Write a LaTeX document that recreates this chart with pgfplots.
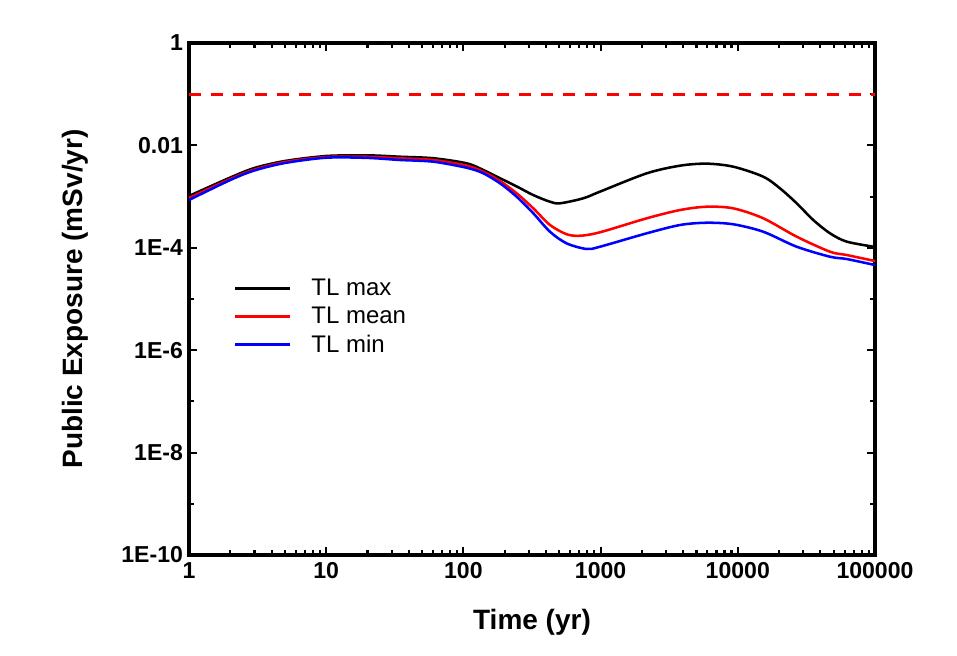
\documentclass[border=0pt]{standalone}
\usepackage{fontspec}
\setmainfont{Liberation Sans}
\usepackage{pgfplots}
\pgfplotsset{compat=1.18}
\begin{document}
\begin{tikzpicture}[x=1pt,y=1pt]
\begin{axis}[
  name=ax,
  scale only axis,
  width=514.5pt, height=384pt,
  xmode=log, ymode=log,
  xmin=1, xmax=100000, ymin=1e-10, ymax=1,
  axis line style={line width=2.4pt},
  xtick={1,10,100,1000,10000,100000},
  xticklabels={1,10,100,1000,10000,100000},
  ytick={1e-10,1e-8,1e-6,1e-4,1e-2,1},
  yticklabels={1E-10,1E-8,1E-6,1E-4,0.01,1},
  minor ytick={1e-9,1e-7,1e-5,1e-3,1e-1},
  minor xtick={},
  major tick length=6pt, minor tick length=4pt,
  every tick/.style={black, line width=1.6pt},
  tick align=inside,
  ticklabel style={font=\bfseries\fontsize{17.3}{20}\selectfont},
  xticklabel style={yshift=-2pt},
  yticklabel style={xshift=-1pt},
  xlabel={Time (yr)},
  ylabel={Public Exposure (mSv/yr)},
  label style={font=\bfseries\fontsize{21}{24}\selectfont},
  xlabel style={at={(axis description cs:0.5,-0.131)}, anchor=center},
  ylabel style={at={(axis description cs:-0.166,0.5)}, anchor=center},
  legend style={draw=none, fill=none, at={(axis description cs:0.065,0.544)}, anchor=north west,
    font=\fontsize{18}{22}\selectfont, row sep=3pt, inner sep=0pt},
  legend cell align=left,
  legend image code/.code={\draw[#1, line width=2.4pt] (0pt,0pt) -- (41pt,0pt); \path (54pt,0pt);},
]
\addplot[red, line width=2.4pt, dash pattern=on 9pt off 7.5pt, forget plot] coordinates {(1,0.1) (100000,0.1)};
\addplot[black, line width=1.9pt, smooth] coordinates {
(1,1.03e-3) (2,2.36e-3) (3,3.62e-3) (5,4.96e-3) (10,6.21e-3) (20,6.40e-3) (34.5,6.01e-3)
(60.3,5.62e-3) (105.7,4.47e-3) (139.7,3.31e-3) (184.8,2.29e-3) (244.5,1.58e-3)
(323.3,1.07e-3) (427.7,7.94e-4) (506,7.40e-4) (748,9.27e-4) (990,1.25e-3)
(2168,2.85e-3) (3793,4.02e-3) (5933,4.40e-3) (9272,3.84e-3) (15340,2.45e-3)
(20300,1.45e-3) (26870,7.40e-4) (35500,3.49e-4) (47000,1.92e-4) (62200,1.32e-4)
(100000,1.04e-4)};
\addlegendentry{TL max}
\addplot[red, line width=1.9pt, smooth] coordinates {
(1,9.40e-4) (2,2.21e-3) (3,3.38e-3) (5,4.74e-3) (10,5.93e-3) (20,6.00e-3) (34.5,5.60e-3)
(60.3,5.19e-3) (105.7,4.02e-3) (139.7,3.06e-3) (184.8,2.02e-3) (244.5,1.16e-3)
(323.3,5.90e-4) (427.7,2.79e-4) (566,1.84e-4) (708,1.72e-4) (990,2.01e-4)
(2168,3.77e-4) (3793,5.47e-4) (5933,6.35e-4) (9272,5.90e-4) (15340,3.77e-4)
(26870,1.65e-4) (47000,8.39e-5) (62200,7.23e-5) (100000,5.52e-5)};
\addlegendentry{TL mean}
\addplot[blue, line width=1.9pt, smooth] coordinates {
(1,8.59e-4) (2,2.11e-3) (3,3.24e-3) (5,4.53e-3) (10,5.75e-3) (20,5.70e-3) (34.5,5.19e-3)
(60.3,4.81e-3) (105.7,3.66e-3) (139.7,2.85e-3) (184.8,1.82e-3) (244.5,9.95e-4)
(323.3,4.72e-4) (427.7,2.06e-4) (566,1.22e-4) (792,9.48e-5) (990,1.05e-4)
(2168,1.92e-4) (3793,2.79e-4) (5933,3.09e-4) (9272,2.88e-4) (15340,2.06e-4)
(26870,1.05e-4) (47000,6.70e-5) (62200,6.04e-5) (100000,4.61e-5)};
\addlegendentry{TL min}
\end{axis}
\path[use as bounding box] ([xshift=-141.75pt,yshift=-75pt]ax.south west) rectangle ([xshift=61.5pt,yshift=32.25pt]ax.north east);
\end{tikzpicture}
\end{document}
